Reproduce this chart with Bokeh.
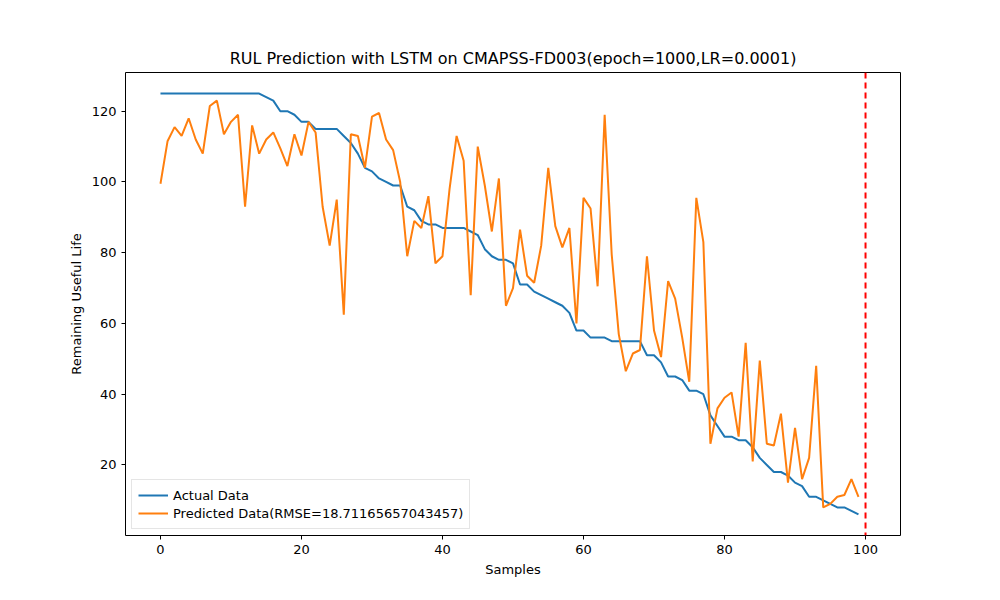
from bokeh.models import Range1d, Span, Legend, LegendItem, FixedTicker
from bokeh.plotting import figure
from bokeh.embed import file_html
from bokeh.resources import INLINE

samples = list(range(100))

actual = [125] * 15 + [124, 123, 120, 120, 119, 117, 117, 115, 115, 115, 115, 113, 111, 108, 104,
          103, 101, 100, 99, 99, 93, 92, 89, 88, 88, 87, 87, 87, 87, 86, 85, 81, 79, 78, 78,
          77, 71, 71, 69, 68, 67, 66, 65, 63, 58, 58, 56, 56, 56, 55, 55, 55, 55, 55, 51,
          51, 49, 45, 45, 44, 41, 41, 40, 34, 31, 28, 28, 27, 27, 25, 22, 20, 18, 18, 17,
          15, 14, 11, 11, 10, 9, 8, 8, 7, 6]

predicted = [99.5, 111.5, 115.5, 113, 118, 112, 108, 121.5, 123, 113.5,
             117, 119, 93, 116, 108, 112, 114, 109.5, 104.5, 113.5,
             107.5, 117, 114, 93, 82, 95, 62.5, 113.5, 113, 104,
             118.5, 119.5, 112, 109, 100, 79, 89, 87, 96, 77,
             79, 98, 113, 106, 68, 110, 99, 86, 101, 65,
             70, 86.5, 73.5, 71.5, 82, 104, 87.5, 81.5, 87, 60,
             95.5, 92.5, 70.5, 119, 79.5, 57, 46.5, 51.5, 52.5, 79,
             58, 50.5, 72, 67, 56, 43.5, 95.5, 83, 26, 36,
             39, 40.5, 28, 54.5, 21, 49.5, 26, 25.5, 34.5, 15,
             30.5, 16, 22, 48, 8, 9, 11, 11.5, 16, 11]

x_ticks = [0, 20, 40, 60, 80, 100]
y_ticks = [20, 40, 60, 80, 100, 120]

p = figure(width=992, height=592, output_backend="svg", toolbar_location=None,
           x_range=Range1d(-4.96, 104.96), y_range=Range1d(0.05, 130.95),
           min_border_left=125, min_border_right=92, min_border_top=72, min_border_bottom=57,
           title="RUL Prediction with LSTM on CMAPSS-FD003(epoch=1000,LR=0.0001)")
p.title.align = "center"
p.title.text_font = "DejaVu Sans"
p.title.text_font_size = "16px"
p.title.text_font_style = "normal"
p.title.text_color = "black"
p.outline_line_color = "black"
p.grid.visible = False

for ax in (p.xaxis[0], p.yaxis[0]):
    ax.major_tick_in = 0
    ax.major_tick_out = 4
    ax.minor_tick_out = 0
    ax.minor_tick_in = 0
    ax.major_tick_line_color = "black"
    ax.major_label_text_color = "black"
    ax.axis_label_text_color = "black"
    ax.major_label_text_font = "DejaVu Sans"
    ax.major_label_text_font_size = "13px"
    ax.axis_label_text_font = "DejaVu Sans"
    ax.axis_label_text_font_size = "13px"
    ax.axis_label_text_font_style = "normal"
    ax.axis_line_color = None
p.xaxis.ticker = FixedTicker(ticks=x_ticks)
p.yaxis.ticker = FixedTicker(ticks=y_ticks)
p.xaxis.axis_label = "Samples"
p.yaxis.axis_label = "Remaining Useful Life"

l1 = p.line(samples, actual, line_color="#1f77b4", line_width=2)
l2 = p.line(samples, predicted, line_color="#ff7f0e", line_width=2)
p.add_layout(Span(location=100, dimension="height", line_color="red",
                  line_dash="6 4", line_width=2))

legend = Legend(items=[LegendItem(label="Actual Data", renderers=[l1]),
                       LegendItem(label="Predicted Data(RMSE=18.71165657043457)", renderers=[l2])],
                location="bottom_left", label_text_font="DejaVu Sans", label_text_font_size="13px",
                label_text_color="black",
                border_line_color="#cccccc", spacing=0, padding=6, margin=6,
                glyph_width=30, label_height=18, glyph_height=18)
p.add_layout(legend)

open("out.html", "w").write(file_html(p, INLINE))
